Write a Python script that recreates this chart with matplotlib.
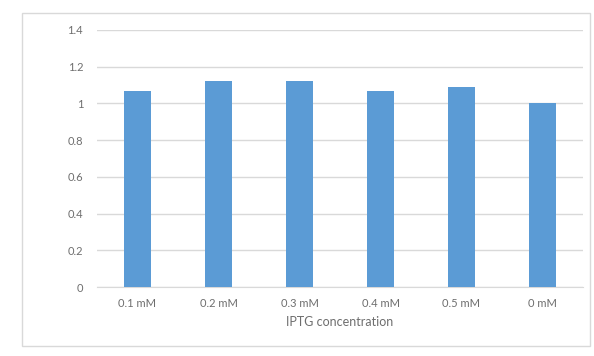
import matplotlib
matplotlib.use("Agg")
import matplotlib.pyplot as plt
from matplotlib.patches import Rectangle

categories = ["0.1 mM", "0.2 mM", "0.3 mM", "0.4 mM", "0.5 mM", "0 mM"]
values = [1.07, 1.12, 1.12, 1.07, 1.09, 1.0]
y_ticks = [0, 0.2, 0.4, 0.6, 0.8, 1, 1.2, 1.4]
y_tick_labels = ["0", "0.2", "0.4", "0.6", "0.8", "1", "1.2", "1.4"]
x_title = "IPTG concentration"

W, H = 594, 356
fig = plt.figure(figsize=(W / 100, H / 100), dpi=100)
plt.rcParams["font.family"] = ["Lato", "DejaVu Sans"]

# outer chart frame
fig.patches.append(Rectangle((22 / W, 1 - 346 / H), (590 - 22) / W, (346 - 13) / H,
                             transform=fig.transFigure, fill=False,
                             edgecolor="#d9d9d9", linewidth=1.0))

left, right, bottom, top = 97, 583, 287, 30
ax = fig.add_axes([left / W, 1 - bottom / H, (right - left) / W, (bottom - top) / H])

x = list(range(len(categories)))
ax.bar(x, values, width=0.33, color="#5b9bd5", zorder=3)

ax.set_xlim(-0.5, len(categories) - 0.5)
ax.set_ylim(0, 1.4)
ax.set_yticks(y_ticks)
ax.set_yticklabels(y_tick_labels)
ax.set_xticks(x)
ax.set_xticklabels(categories)
ax.grid(axis="y", color="#d9d9d9", linewidth=1.0, zorder=0)
for s in ["top", "right", "left"]:
    ax.spines[s].set_visible(False)
ax.spines["bottom"].set_color("#d9d9d9")
ax.tick_params(axis="both", length=0, labelsize=8, colors="#6e6e6e")
ax.tick_params(axis="y", pad=10)
ax.tick_params(axis="x", pad=8)
ax.set_xlabel(x_title, fontsize=9, color="#6e6e6e", labelpad=5)

fig.savefig("out.png", dpi=100)
